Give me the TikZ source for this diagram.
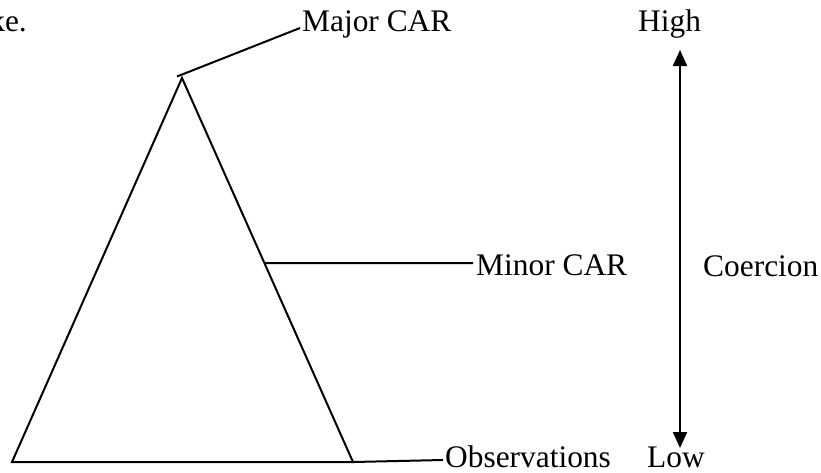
\documentclass[tikz,border=0pt]{standalone}
\usepackage{fontspec}
\setmainfont{Liberation Serif}
\usetikzlibrary{arrows.meta,calc}
\tikzset{
  lbl/.style={inner sep=0pt, anchor=base west, font=\fontsize{31.4}{36}\selectfont},
  ln/.style={line width=2pt, line join=miter},
  coerarrow/.style={line width=2.2pt, {Triangle[length=16pt,width=14pt]}-{Triangle[length=16pt,width=14pt]}}
}
\begin{document}
\begin{tikzpicture}[x=1pt,y=-1pt]
\useasboundingbox (0,0) rectangle (821,472);
% triangle
\coordinate (apex) at (182,78);
\coordinate (bl) at (12,462);
\coordinate (br) at (353,462);
\draw[ln] (apex) -- (bl) -- (br) -- cycle;
% labels
\node[lbl, anchor=base east] (ke) at (27,31.7) {ke.};
\node[lbl] (major) at (302,31.7) {Major CAR};
\node[lbl] (minor) at (476,275) {Minor CAR};
\node[lbl] (obs) at (445,467.5) {Observations};
\node[lbl] (high) at (638,31.7) {High};
\node[lbl] (low) at (647,467.5) {Low};
\node[lbl] (coer) at (703,276) {Coercion};
% connectors
\coordinate (majfoot) at (177,76.5);
\coordinate (majend) at (300,28);
\draw[ln] (majfoot) -- (majend);
\coordinate (minfoot) at ($(apex)!{(263-78)/(462-78)}!(br)$);
\coordinate (minend) at (473,263);
\draw[ln] (minfoot) -- (minend);
\coordinate (obsend) at (443,460);
\draw[ln] (br) -- (obsend);
% coercion scale
\coordinate (top) at (680,50);
\coordinate (bot) at (680,448);
\draw[coerarrow] (bot) -- (top);
\end{tikzpicture}
\end{document}
